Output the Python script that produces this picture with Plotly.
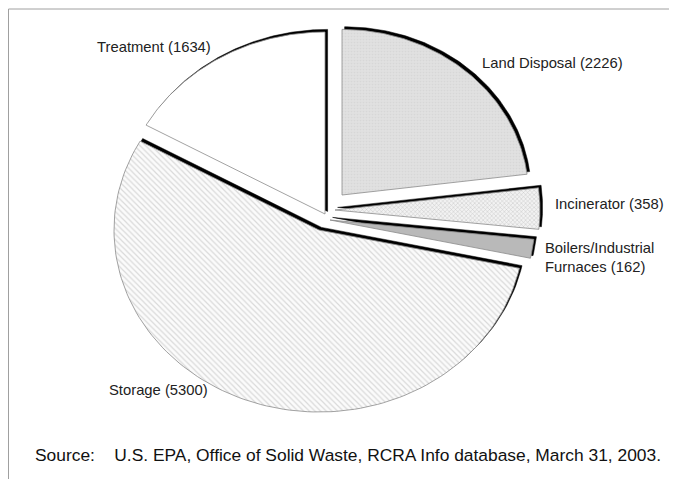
import numpy as np
import plotly.graph_objects as go

# data (clockwise from 12 o'clock)
labels = ["Land Disposal", "Incinerator", "Boilers/Industrial<br>Furnaces", "Storage", "Treatment"]
values = [2226, 358, 162, 5300, 1634]
source = "Source:\u00a0\u00a0\u00a0\u00a0U.S. EPA, Office of Solid Waste, RCRA Info database, March 31, 2003."

# layout / style (page pixel space, y grows downward; page body has an 8px margin)
W, H = 677, 479
M = 8
cx, cy = 327, 218
rx, ry = 205, 182
offsets = [(15, -23), (8, -8), (3, 2), (-8, 12), (-2, -4)]
scales = [0.91, 1, 1, 1, 1]
shadow = (2.6, -2.6)
styles = [
    dict(fillcolor="#dedede", fillpattern=dict(shape=".", fgcolor="#cdcdcd", bgcolor="#e0e0e0", size=3, solidity=0.25)),
    dict(fillcolor="#e6e6e6", fillpattern=dict(shape="x", fgcolor="#9a9a9a", bgcolor="#f2f2f2", size=3, solidity=0.3)),
    dict(fillcolor="#b9b9b9"),
    dict(fillcolor="#f2f2f2", fillpattern=dict(shape="\\", fgcolor="#b8b8b8", bgcolor="#fbfbfb", size=4, solidity=0.3)),
    dict(fillcolor="white"),
]
label_pos = [(480, 63), (553, 204), (543, 257), (107, 390), (95, 47)]
label_font = dict(family="Liberation Sans, Arial, sans-serif", size=14.8, color="#222")

total = sum(values)
edges = np.concatenate([[0], np.cumsum(values)]) / total * 2 * np.pi


def wedge(i, sx=0.0, sy=0.0):
    t = np.linspace(edges[i], edges[i + 1], 120)
    ox, oy = offsets[i]
    x0, y0 = cx + ox + sx, cy + oy + sy
    xs = x0 + scales[i] * rx * np.sin(t)
    ys = y0 - scales[i] * ry * np.cos(t)
    return np.r_[x0, xs, x0], np.r_[y0, ys, y0]


fig = go.Figure()

# black drop-shadow copies first
for i in range(len(values)):
    x, y = wedge(i, *shadow)
    fig.add_trace(go.Scatter(x=x, y=y, mode="lines", fill="toself", fillcolor="black",
                             line=dict(width=0.5, color="black"), hoverinfo="skip", showlegend=False))

# the slices themselves
for i in range(len(values)):
    x, y = wedge(i)
    fig.add_trace(go.Scatter(x=x, y=y, mode="lines", fill="toself",
                             line=dict(width=0.8, color="#8a8a8a"), name=labels[i],
                             showlegend=False, **styles[i]))

for i, lab in enumerate(labels):
    fig.add_annotation(x=label_pos[i][0], y=label_pos[i][1], text=f"{lab} ({values[i]})",
                       showarrow=False, xanchor="left", yanchor="middle", align="left",
                       font=label_font)

fig.add_annotation(x=33, y=455, text=source, showarrow=False, xanchor="left", yanchor="middle",
                   font=dict(family="Liberation Sans, Arial, sans-serif", size=17.4, color="#111"))

fig.add_shape(type="line", x0=M + 0.5, y0=9, x1=W, y1=9, line=dict(color="#a0a0a0", width=1))
fig.add_shape(type="line", x0=M + 0.5, y0=9, x1=M + 0.5, y1=H, line=dict(color="#a0a0a0", width=1))

fig.update_xaxes(range=[M, W], visible=False, fixedrange=True)
fig.update_yaxes(range=[H, M], visible=False, fixedrange=True)
fig.update_layout(width=W - M, height=H - M, margin=dict(l=0, r=0, t=0, b=0),
                  plot_bgcolor="white", paper_bgcolor="white")

fig.write_html("out.html")
